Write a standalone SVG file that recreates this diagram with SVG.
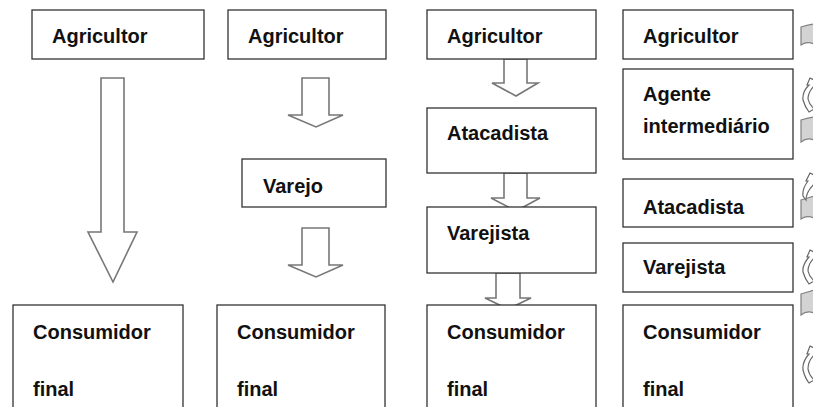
<svg xmlns="http://www.w3.org/2000/svg" width="813" height="407" viewBox="0 0 813 407">
<style>
.box{fill:#fff;stroke:#333;stroke-width:1.3}
.arr{fill:#fff;stroke:#777;stroke-width:1.6;stroke-linejoin:miter}
.gr{fill:#d3d3d3;stroke:#808080;stroke-width:1.2}
.ca{fill:#fff;stroke:#666;stroke-width:1.2}
text{font-family:"Liberation Sans",Arial,sans-serif;font-weight:bold;font-size:20px;fill:#111}
</style>
<rect width="813" height="407" fill="#fff"/>
<g id="connectors">
<path class="arr" d="M101,78 H124 V232 H137 L113,282 L88,232 H101 Z"/>
<path class="arr" d="M302,78 H329 V115 H343 L316,127 L288,115 H302 Z"/>
<path class="arr" d="M302,228 H329 V265 H343 L316,277 L288,265 H302 Z"/>
<path class="arr" d="M504,59 H527 V83 H538 L516,96 L492,83 H504 Z"/>
<path class="arr" d="M504,173 H527 V198 H540 L516,211 L491,198 H504 Z"/>
<path class="arr" d="M496,273 H520 V298 H531 L508,309 L485,298 H496 Z"/>
</g>
<g id="col1-agricultor"><rect class="box" x="32" y="10" width="172" height="49"/><text x="52" y="43">Agricultor</text></g>
<g id="col1-consumidor"><rect class="box" x="13" y="305" width="170" height="110"/><text x="33" y="339">Consumidor</text><text x="33" y="396">final</text></g>
<g id="col2-agricultor"><rect class="box" x="228" y="10" width="158" height="49"/><text x="248" y="43">Agricultor</text></g>
<g id="col2-varejo"><rect class="box" x="242" y="159" width="144" height="48"/><text x="263" y="193">Varejo</text></g>
<g id="col2-consumidor"><rect class="box" x="217" y="305" width="168" height="110"/><text x="237" y="339">Consumidor</text><text x="237" y="396">final</text></g>
<g id="col3-agricultor"><rect class="box" x="427" y="10" width="169" height="49"/><text x="447" y="43">Agricultor</text></g>
<g id="col3-atacadista"><rect class="box" x="427" y="108" width="169" height="65"/><text x="447" y="140">Atacadista</text></g>
<g id="col3-varejista"><rect class="box" x="427" y="207" width="169" height="66"/><text x="447" y="240">Varejista</text></g>
<g id="col3-consumidor"><rect class="box" x="427" y="305" width="169" height="110"/><text x="447" y="339">Consumidor</text><text x="447" y="396">final</text></g>
<g id="col4-agricultor"><rect class="box" x="623" y="10" width="170" height="49"/><text x="643" y="43">Agricultor</text></g>
<g id="col4-agente"><rect class="box" x="623" y="69" width="170" height="90"/><text x="643" y="101">Agente</text><text x="643" y="133">intermediário</text></g>
<g id="col4-atacadista"><rect class="box" x="623" y="179" width="170" height="48"/><text x="643" y="214">Atacadista</text></g>
<g id="col4-varejista"><rect class="box" x="623" y="243" width="170" height="49"/><text x="643" y="274">Varejista</text></g>
<g id="col4-consumidor"><rect class="box" x="623" y="305" width="170" height="110"/><text x="643" y="339">Consumidor</text><text x="643" y="396">final</text></g>
<g id="edge-shapes">
<path class="gr" d="M801,27 Q807,25 814,24 V44 Q807,41 801,45 Z"/>
<path class="gr" d="M801,120 Q807,118 814,117 V140 Q807,137 801,142 Z"/>
<path class="gr" d="M801,200 Q807,198 814,196 V218 Q807,215 801,219 Z"/>
<path class="gr" d="M801,294 Q807,292 814,290 V313 Q807,310 801,315 Z"/>
<path class="ca" d="M814,80 L810,78 L807,85 L809,85 Q802,92 803,100 Q805,107 809,112 L814,109 Q809,104 808,99 Q808,92 814,86 Z"/>
<path class="ca" d="M814,175 L810,173 L806,181 L808,181 Q802,189 803,196 L806,200 Q806,192 814,184 Z"/>
<path class="ca" d="M814,252 L810,250 L807,257 L809,257 Q802,265 803,272 Q805,279 809,284 L814,281 Q809,276 808,271 Q808,264 814,258 Z"/>
<path class="ca" d="M814,348 L810,346 L807,354 L809,354 Q802,362 803,370 Q805,378 809,383 L814,380 Q809,375 808,369 Q808,361 814,355 Z"/>
</g>
</svg>
